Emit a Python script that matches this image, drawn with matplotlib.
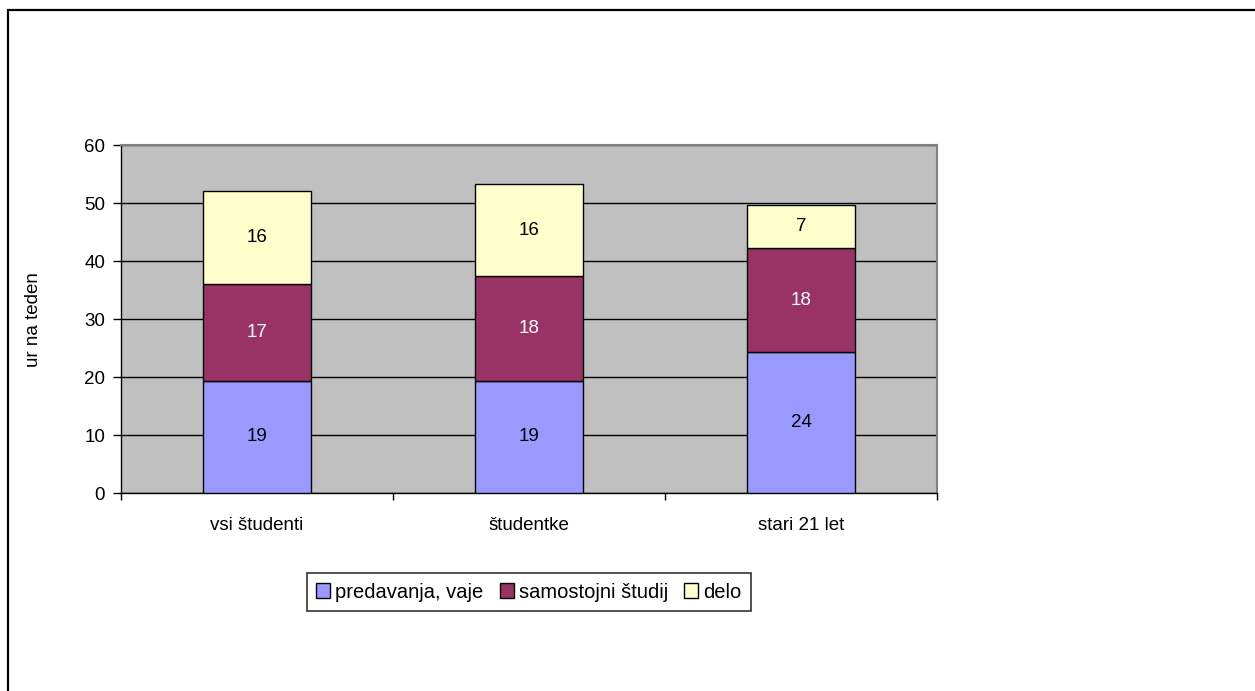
import matplotlib
matplotlib.use("Agg")
import matplotlib.pyplot as plt
from matplotlib.patches import Rectangle
import numpy as np

plt.rcParams['font.family'] = ['Liberation Sans', 'DejaVu Sans']

categories = ["vsi študenti", "študentke", "stari 21 let"]
series_names = ["predavanja, vaje", "samostojni študij", "delo"]
predavanja = [19.4, 19.4, 24.3]
samostojni = [16.7, 18.0, 17.9]
delo = [15.9, 15.9, 7.4]

colors = ["#9999FF", "#993366", "#FFFFCC"]
label_colors = ["black", "white", "black"]

FS = 13.5

fig = plt.figure(figsize=(12.55, 6.91), dpi=100)
fig.patch.set_facecolor("white")

# outer chart-area frame
fig.patches.append(Rectangle((8 / 1255, -0.1), 1.2, (1 - 10 / 691) + 0.1,
                             transform=fig.transFigure, fill=False,
                             edgecolor="black", linewidth=1.6, zorder=0))

ax = fig.add_axes([121 / 1255, 1 - 493.3 / 691, (937 - 121) / 1255, (493.3 - 145) / 691])
ax.set_facecolor("#C0C0C0")

x = np.arange(len(categories))
bottom = np.zeros(len(categories))
handles = []
for vals, name, col, lc in zip([predavanja, samostojni, delo], series_names, colors, label_colors):
    vals = np.array(vals)
    bars = ax.bar(x, vals, width=0.4, bottom=bottom, color=col, edgecolor="black",
                  linewidth=1.0, label=name, zorder=3)
    handles.append(bars)
    for xi, b, v in zip(x, bottom, vals):
        ax.text(xi, b + v / 2, f"{v:.0f}", ha="center", va="center",
                fontsize=FS, color=lc, zorder=4)
    bottom += vals

ax.set_xlim(-0.5, 2.5)
ax.set_ylim(0, 60)
ax.set_yticks(np.arange(0, 61, 10))
ax.yaxis.grid(True, color="black", linewidth=1.0, zorder=1)
ax.set_axisbelow(True)

ax.set_xticks(x)
ax.set_xticklabels(categories, fontsize=FS)
ax.set_xticks([-0.5, 0.5, 1.5, 2.5], minor=True)
ax.tick_params(axis="x", which="major", length=0, pad=17)
ax.tick_params(axis="x", which="minor", length=5, width=1.0, direction="out")
ax.tick_params(axis="y", length=5.5, width=1.0, direction="out", pad=6, labelsize=FS)

for s in ["top", "right"]:
    ax.spines[s].set_color("#808080")
    ax.spines[s].set_linewidth(1.5)
for s in ["left", "bottom"]:
    ax.spines[s].set_color("black")
    ax.spines[s].set_linewidth(1.0)

ax.set_ylabel("ur na teden", fontsize=FS)
ax.yaxis.set_label_coords((42 - 121) / 816, 0.5)

leg = fig.legend(handles=handles, labels=series_names, loc="center",
                 bbox_to_anchor=(529 / 1255, 1 - 592 / 691), ncol=3,
                 frameon=True, fancybox=False, fontsize=14.5,
                 handlelength=0.7, handleheight=0.7, handletextpad=0.25,
                 columnspacing=0.8, borderpad=0.45, borderaxespad=0)
leg.get_frame().set_edgecolor("black")
leg.get_frame().set_linewidth(1.2)

fig.savefig("out.png", dpi=100)
